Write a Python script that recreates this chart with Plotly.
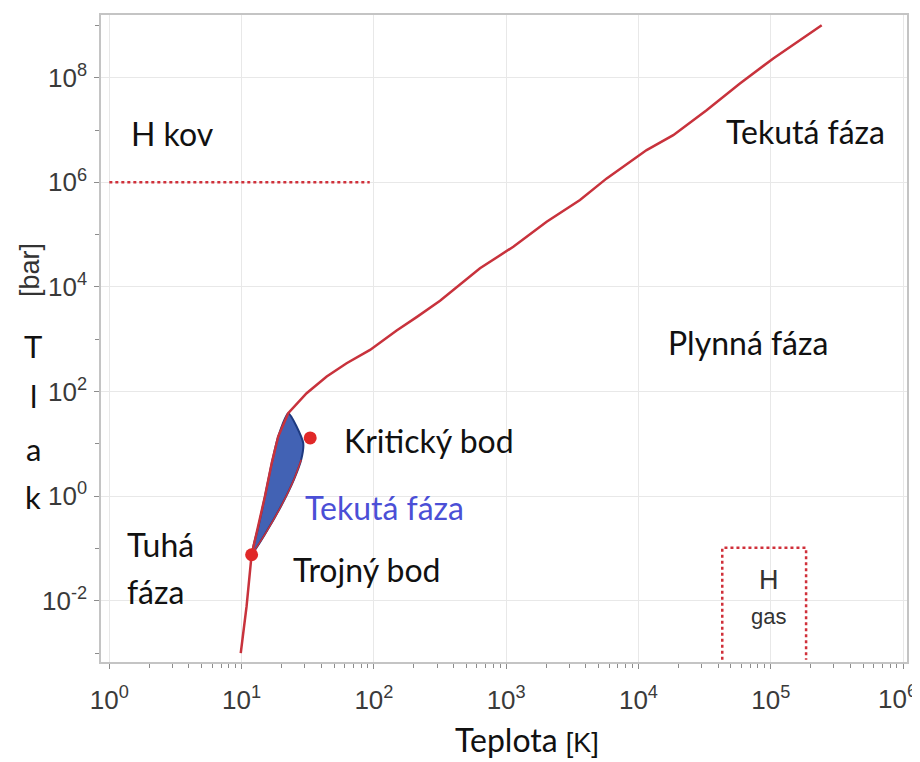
import plotly.graph_objects as go

# ---- data ----
# main curve: below triple point, then melting line up to top right
curve_T = [9.85, 10.9, 11.9, 13.4, 15.0, 16.9, 18.9, 22.5, 31.0, 44.0, 62.2, 93.5, 148.6, 210.4, 316.2,
           634.0, 1132.0, 2023.0, 3614.0, 5754.0, 11530.0, 18320.0, 32730.0, 58480.0, 104500.0, 242700.0]
curve_P = [0.001, 0.0078, 0.076, 0.264, 0.986, 4.29, 13.8, 38.6, 93.1, 193.6, 348.0, 625.0, 1472.0, 2655.0, 5433.0,
           22750.0, 58880.0, 176600.0, 460300.0, 1191000.0, 4140000.0, 8000000.0, 24040000.0, 77800000.0, 233900000.0, 1012000000.0]

# liquid region: left edge (from triple point up), right edge (vaporization curve down to triple point)
liq_left_T = [11.9, 13.4, 15.0, 16.9, 18.9, 22.5]
liq_left_P = [0.076, 0.264, 0.986, 4.29, 13.8, 38.6]
liq_right_T = [29.2, 28.2, 24.8, 19.8, 15.2, 11.9]
liq_right_P = [10.5, 4.96, 2.06, 0.635, 0.197, 0.076]

# special points: triple point, critical point
point_T = [11.9, 33.0]
point_P = [0.076, 13.0]

# dashed boundaries
hkov_T = [1.0, 93.0]
hkov_P = [1.0e6, 1.0e6]
hgas_T = [43000.0, 43000.0, 185000.0, 185000.0]
hgas_P = [0.00075, 0.103, 0.103, 0.00075]

xtick_vals = [10 ** k for k in range(0, 7)]
xtick_text = ["10<sup>%d</sup>" % k for k in range(0, 6)] + [""]
last_xtick = "10<sup>6</sup>"
ytick_vals = [10 ** k for k in range(-2, 9, 2)]
ytick_text = ["10<sup>%d</sup>" % k for k in range(-2, 9, 2)]
yminor_vals = [10 ** k for k in range(-3, 10, 2)]
xminor_vals = [m * 10 ** k for k in range(0, 6) for m in range(2, 10)]

# page geometry (browser body has an 8px margin)
OFF = 8
PX0, PX1, PY0, PY1 = 101, 907, 15, 662


def px2paper(px, py):
    return (px - PX0) / (PX1 - PX0), (PY1 - py) / (PY1 - PY0)


RED = "#c8323c"
fig = go.Figure()

fig.add_trace(go.Scatter(x=liq_left_T + liq_right_T, y=liq_left_P + liq_right_P,
                         mode="lines", fill="toself", fillcolor="#4262b4",
                         line=dict(color="#1e3a80", width=2, shape="spline", smoothing=0.6),
                         hoverinfo="skip"))
fig.add_trace(go.Scatter(x=liq_right_T[1:], y=liq_right_P[1:],
                         mode="lines", line=dict(color=RED, width=1.5, shape="spline", smoothing=0.6),
                         hoverinfo="skip"))
fig.add_trace(go.Scatter(x=curve_T, y=curve_P, mode="lines",
                         line=dict(color=RED, width=2.5), hoverinfo="skip"))
fig.add_trace(go.Scatter(x=point_T, y=point_P, mode="markers",
                         marker=dict(color="#e02828", size=13), hoverinfo="skip"))
fig.add_trace(go.Scatter(x=hkov_T, y=hkov_P, mode="lines",
                         line=dict(color="#d0303a", width=2.5, dash="dot"), hoverinfo="skip"))
fig.add_trace(go.Scatter(x=hgas_T, y=hgas_P, mode="lines",
                         line=dict(color="#d0303a", width=2.5, dash="dot"), hoverinfo="skip"))

TXT = "Lato"


def ann(text, xl, yl, size=32, color="#111111", xanchor="center", family=TXT):
    fig.add_annotation(x=xl, y=yl, xref="x", yref="y", text=text, showarrow=False,
                       xanchor=xanchor, yanchor="middle",
                       font=dict(family=family, size=size, color=color))


ann("H kov", 0.48, 6.94)
ann("Tekutá fáza", 5.26, 6.98)
ann("Plynná fáza", 4.83, 2.93)
ann("Kritický bod", 2.42, 1.06)
ann("Tekutá fáza", 2.08, -0.21, color="#4b4fd6")
ann("Tuhá", 0.12, -0.93, xanchor="left")
ann("fáza", 0.12, -1.83, xanchor="left")
ann("Trojný bod", 1.95, -1.41)
ann("H", 4.99, -1.6, size=27, color="#333333", family="Liberation Sans")
ann("gas", 4.98, -2.30, size=22, color="#333333", family="Liberation Sans")


def pann(text, px, py, size, family=TXT, color="#111111", angle=0, xanchor="center"):
    x, y = px2paper(px, py)
    fig.add_annotation(x=x, y=y, xref="paper", yref="paper", text=text, showarrow=False,
                       xanchor=xanchor, yanchor="middle", textangle=angle,
                       font=dict(family=family, size=size, color=color))


pann("[bar]", 30, 270, 27, family="Liberation Sans", color="#333333", angle=-90)
for letter, py in zip(["T", "l", "a", "k"], [346, 396, 449, 497]):
    pann(letter, 33, py, 31)
pann("Teplota <span style='font-family:Liberation Sans;font-size:27px'>[K]</span>", 527, 740, 32)
# last x tick label, kept inside the page edge
pann(last_xtick, 919, 697, 26, family="Liberation Sans", color="#3a3a3a", xanchor="right")

axis_common = dict(showline=True, mirror=True, linecolor="#c4c4c4", linewidth=1.5,
                   gridcolor="#e8e8e8", gridwidth=1, zeroline=False, automargin=False,
                   ticks="outside", tickcolor="#8c8c8c", ticklen=5,
                   tickfont=dict(family="Liberation Sans", size=26, color="#3a3a3a"))

fig.update_xaxes(type="log", range=[-0.063, 6.03], tickvals=xtick_vals, ticktext=xtick_text,
                 minor=dict(tickvals=xminor_vals, ticks="outside", ticklen=4, tickcolor="#8c8c8c",
                            showgrid=False), ticklabelstandoff=9, **axis_common)
fig.update_yaxes(type="log", range=[-3.17, 9.2], tickvals=ytick_vals, ticktext=ytick_text,
                 minor=dict(tickvals=yminor_vals, ticks="outside", ticklen=4, tickcolor="#8c8c8c",
                            showgrid=False), ticklabelstandoff=2, **axis_common)

W, H = 920 - OFF, 762 - OFF
fig.update_layout(width=W, height=H, showlegend=False,
                  margin=dict(l=PX0 - OFF, r=W + OFF - PX1, t=PY0 - OFF, b=H + OFF - PY1),
                  plot_bgcolor="white", paper_bgcolor="white")

fig.write_html("out.html")
